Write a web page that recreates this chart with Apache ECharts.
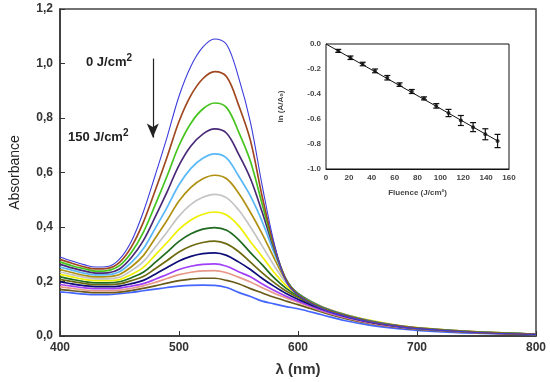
<!DOCTYPE html>
<html>
<head>
<meta charset="utf-8">
<script src="https://cdn.jsdelivr.net/npm/echarts@6/dist/echarts.min.js"></script>
<style>html,body{margin:0;padding:0;background:#fff;}#chart{width:550px;height:382px;}</style>
</head>
<body>
<div id="chart"></div>
<script>
// ---- Main spectra data ----
const wavelengths = [400,410,420,430,440,450,460,470,480,490,500,510,520,530,540,550,560,570,580,590,600,620,640,660,680,700,750,800];

const absorb0  = [.290,.275,.262,.253,.255,.282,.348,.455,.590,.730,.880,.990,1.060,1.090,1.070,.950,.785,.550,.340,.200,.150,.100,.072,.052,.037,.027,.013,.006];
const absorb1  = [.281,.267,.254,.246,.248,.270,.327,.417,.534,.657,.787,.883,.944,.970,.951,.848,.718,.510,.330,.205,.152,.102,.074,.053,.038,.028,.013,.006];
const absorb2  = [.272,.258,.247,.238,.240,.258,.306,.380,.481,.587,.699,.781,.833,.855,.838,.750,.641,.482,.325,.207,.154,.104,.075,.054,.039,.028,.014,.006];
const absorb3  = [.263,.250,.239,.231,.232,.246,.288,.350,.437,.529,.626,.697,.741,.760,.744,.668,.578,.453,.318,.208,.155,.105,.076,.055,.040,.029,.014,.007];
const absorb4  = [.253,.242,.231,.224,.225,.236,.270,.320,.395,.472,.555,.615,.652,.668,.653,.588,.514,.419,.305,.208,.156,.106,.077,.056,.040,.029,.014,.007];
const absorb5  = [.244,.233,.223,.217,.218,.226,.254,.295,.359,.425,.495,.545,.577,.590,.577,.525,.454,.374,.285,.204,.156,.107,.078,.057,.041,.030,.015,.007];
const absorb6  = [.235,.225,.216,.210,.210,.216,.240,.273,.326,.382,.440,.483,.509,.520,.507,.463,.400,.330,.258,.195,.155,.107,.078,.057,.041,.030,.015,.007];
const absorb7  = [.226,.217,.208,.203,.203,.207,.226,.252,.297,.343,.391,.426,.447,.455,.444,.405,.346,.291,.233,.185,.152,.107,.079,.058,.042,.031,.015,.007];
const absorb8  = [.217,.208,.200,.195,.195,.199,.214,.234,.270,.308,.347,.375,.392,.398,.388,.354,.306,.261,.213,.175,.148,.105,.077,.056,.040,.030,.015,.007];
const absorb9  = [.208,.200,.193,.188,.188,.191,.203,.218,.247,.277,.308,.330,.343,.348,.338,.310,.271,.232,.196,.165,.142,.102,.075,.054,.039,.029,.014,.007];
const absorb10 = [.199,.191,.185,.181,.181,.183,.192,.204,.227,.251,.275,.292,.302,.305,.296,.272,.244,.211,.182,.156,.135,.099,.072,.052,.038,.028,.014,.006];
const absorb11 = [.189,.183,.177,.174,.174,.176,.183,.192,.208,.226,.244,.256,.263,.265,.256,.236,.217,.191,.167,.146,.128,.095,.069,.050,.036,.027,.013,.006];
const absorb12 = [.180,.175,.169,.166,.166,.168,.175,.184,.197,.211,.225,.234,.239,.240,.232,.216,.198,.177,.157,.140,.124,.092,.067,.048,.035,.026,.013,.006];
const absorb13 = [.171,.166,.162,.159,.159,.161,.167,.175,.184,.194,.203,.209,.212,.212,.204,.192,.174,.158,.142,.128,.115,.088,.064,.046,.033,.024,.012,.006];
const absorb14 = [.162,.158,.154,.152,.152,.155,.160,.166,.172,.178,.183,.186,.187,.186,.178,.160,.145,.128,.118,.108,.100,.078,.056,.040,.029,.021,.010,.005];

const curveValues = [absorb0,absorb1,absorb2,absorb3,absorb4,absorb5,absorb6,absorb7,absorb8,absorb9,absorb10,absorb11,absorb12,absorb13,absorb14];
const curveColors = ['#3c3cdc','#a04820','#44c41c','#4a2a78','#58b8f8','#b09010','#c4c4c4','#eef000','#1e6a1e','#6e6a10','#0c0c78','#a040f8','#e89888','#6a5a18','#4466ff'];

// ---- Inset data ----
const fluence  = [10.7,21.4,32.1,42.9,53.6,64.3,75.0,85.7,96.4,107.1,117.9,128.6,139.3,150.0];
const lnRatio  = [-0.055,-0.110,-0.160,-0.215,-0.270,-0.325,-0.380,-0.435,-0.495,-0.552,-0.612,-0.665,-0.722,-0.776];
const lnError  = [0.012,0.014,0.014,0.015,0.018,0.014,0.016,0.012,0.018,0.029,0.040,0.036,0.044,0.053];
const fitFluence = [0,150];
const fitLn      = [0,-0.775];

const chart = echarts.init(document.getElementById('chart'), null, {renderer:'canvas'});

const spectraSeries = curveValues.map((vals, i) => ({
  type: 'line',
  xAxisIndex: 0, yAxisIndex: 0,
  data: wavelengths.map((w, j) => [w, vals[j]]),
  showSymbol: false,
  smooth: 0.35,
  lineStyle: {color: curveColors[i], width: i === 0 ? 1.1 : 1.7},
  itemStyle: {color: curveColors[i]},
  z: 20 - i,
  silent: true
}));

// arrow annotation (in data space)
spectraSeries[0].markLine = {
  silent: true,
  symbol: ['none', 'arrow'],
  symbolSize: [9, 14],
  label: {show: false},
  lineStyle: {color: '#222', width: 1.2, type: 'solid'},
  data: [[{coord: [478, 1.018]}, {coord: [478, 0.728]}]]
};

const option = {
  animation: false,
  backgroundColor: '#fff',
  grid: [
    {left: 60, right: 14, top: 9, bottom: 46, show: true, borderColor: '#444', borderWidth: 1.5, backgroundColor: 'transparent'},
    {left: 326, top: 44, width: 183, height: 125, show: true, borderColor: '#111', borderWidth: 1, backgroundColor: '#fff', z: 30}
  ],
  xAxis: [
    {
      type: 'value', gridIndex: 0, min: 400, max: 800, interval: 100,
      name: 'λ (nm)', nameLocation: 'middle', nameGap: 26,
      nameTextStyle: {fontSize: 15, fontWeight: 'bold', color: '#333', fontFamily: 'Liberation Sans'},
      axisLine: {show: true, onZero: false, lineStyle: {color: '#333', width: 1.5}},
      axisTick: {show: true, inside: true, length: 5, lineStyle: {color: '#333'}},
      axisLabel: {fontSize: 12, fontWeight: 'bold', color: '#333', margin: 6, fontFamily: 'Liberation Sans'},
      splitLine: {show: false}
    },
    {
      type: 'value', gridIndex: 1, min: 0, max: 160, interval: 20,
      name: 'Fluence (J/cm²)', nameLocation: 'middle', nameGap: 20,
      nameTextStyle: {fontSize: 8, fontWeight: 'bold', color: '#444', fontFamily: 'Liberation Sans'},
      axisLine: {show: true, onZero: false, lineStyle: {color: '#111', width: 1}},
      axisTick: {show: false},
      axisLabel: {fontSize: 8, fontWeight: 'bold', color: '#444', margin: 5, fontFamily: 'Liberation Sans'},
      splitLine: {show: false}
    }
  ],
  yAxis: [
    {
      type: 'value', gridIndex: 0, min: 0, max: 1.2, interval: 0.2,
      name: 'Absorbance', nameLocation: 'middle', nameGap: 38,
      nameTextStyle: {fontSize: 14, color: '#222', fontFamily: 'Liberation Sans'},
      axisLine: {show: true, lineStyle: {color: '#333', width: 1.5}},
      axisTick: {show: true, inside: true, length: 5, lineStyle: {color: '#333'}},
      axisLabel: {fontSize: 12, fontWeight: 'bold', color: '#333', margin: 7, fontFamily: 'Liberation Sans',
        formatter: v => v.toFixed(1).replace('.', ',')},
      splitLine: {show: false}
    },
    {
      type: 'value', gridIndex: 1, min: -1.0, max: 0, interval: 0.2,
      name: 'ln (A/A₀)', nameLocation: 'middle', nameGap: 41,
      nameTextStyle: {fontSize: 8, fontWeight: 'bold', color: '#444', fontFamily: 'Liberation Sans'},
      axisLine: {show: true, lineStyle: {color: '#111', width: 1}},
      axisTick: {show: false},
      axisLabel: {fontSize: 8, fontWeight: 'bold', color: '#444', margin: 5, fontFamily: 'Liberation Sans',
        formatter: v => v.toFixed(1)},
      splitLine: {show: false}
    }
  ],
  graphic: [
    {type: 'text', left: 86, top: 53, z: 50, style: {
      text: '{a|0 J/cm}{s|2}', rich: {
        a: {fontSize: 13, fontWeight: 'bold', fill: '#222', fontFamily: 'Liberation Sans'},
        s: {fontSize: 10, fontWeight: 'bold', fill: '#222', fontFamily: 'Liberation Sans', padding: [0,0,8,0]}
      }}},
    {type: 'text', left: 68, top: 128, z: 50, style: {
      text: '{a|150 J/cm}{s|2}', rich: {
        a: {fontSize: 13, fontWeight: 'bold', fill: '#222', fontFamily: 'Liberation Sans'},
        s: {fontSize: 10, fontWeight: 'bold', fill: '#222', fontFamily: 'Liberation Sans', padding: [0,0,8,0]}
      }}}
  ],
  series: spectraSeries.concat([
    {
      type: 'line', xAxisIndex: 1, yAxisIndex: 1,
      data: fitFluence.map((f, i) => [f, fitLn[i]]),
      showSymbol: false, lineStyle: {color: '#111', width: 1}, z: 40, silent: true
    },
    {
      type: 'custom', xAxisIndex: 1, yAxisIndex: 1, z: 41, silent: true,
      data: fluence.map((f, i) => [f, lnRatio[i] + lnError[i], lnRatio[i] - lnError[i]]),
      renderItem: function (params, api) {
        const x = api.value(0);
        const top = api.coord([x, api.value(1)]);
        const bot = api.coord([x, api.value(2)]);
        const w = 3;
        const st = {stroke: '#111', lineWidth: 1.2};
        return {type: 'group', children: [
          {type: 'line', shape: {x1: top[0], y1: top[1], x2: bot[0], y2: bot[1]}, style: st},
          {type: 'line', shape: {x1: top[0]-w, y1: top[1], x2: top[0]+w, y2: top[1]}, style: st},
          {type: 'line', shape: {x1: bot[0]-w, y1: bot[1], x2: bot[0]+w, y2: bot[1]}, style: st}
        ]};
      }
    },
    {
      type: 'scatter', xAxisIndex: 1, yAxisIndex: 1, z: 42, silent: true,
      data: fluence.map((f, i) => [f, lnRatio[i]]),
      symbol: 'circle', symbolSize: 4, itemStyle: {color: '#111'}
    }
  ])
};
chart.setOption(option);
</script>
</body>
</html>
